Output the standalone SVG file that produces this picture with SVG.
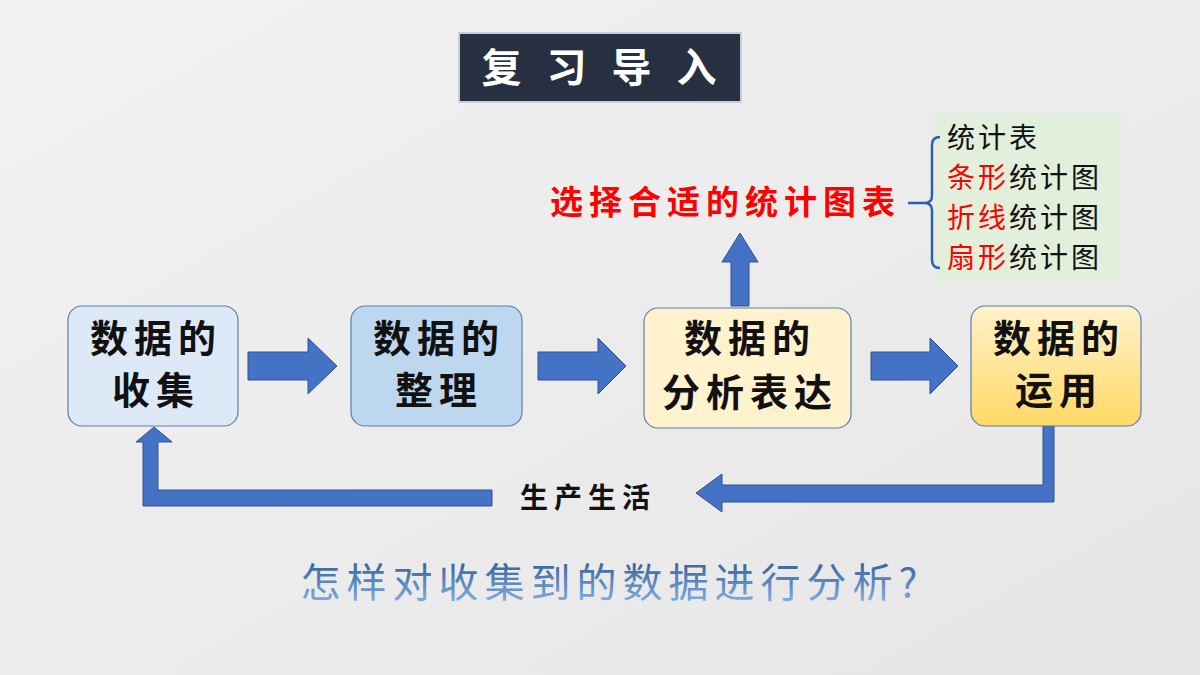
<svg xmlns="http://www.w3.org/2000/svg" width="1200" height="675" viewBox="0 0 1200 675">
<defs>
<style>
.cjk{font-family:"Noto Sans CJK SC","Noto Sans CJK JP",sans-serif}
.node{stroke:#5b7db5;stroke-width:1.2}
.nt{font-size:38px;font-weight:bold;fill:#111;text-anchor:middle;letter-spacing:6px}
.blk{fill:#4472c4;stroke:#2f528f;stroke-width:1}
.li{font-size:28px;letter-spacing:3px}
</style>
<linearGradient id="bg" x1="0" y1="0" x2="1" y2="1"><stop offset="0" stop-color="#f2f2f2"/><stop offset="1" stop-color="#e6e6e6"/></linearGradient>
<linearGradient id="y4" x1="0" y1="0" x2="0" y2="1"><stop offset="0" stop-color="#fff2cc"/><stop offset="1" stop-color="#ffd966"/></linearGradient>
<linearGradient id="q" x1="0" y1="0" x2="0" y2="1"><stop offset="0" stop-color="#1f4e8c"/><stop offset="1" stop-color="#8fb8e8"/></linearGradient>
</defs>
<rect width="1200" height="675" fill="url(#bg)"/>
<g id="title"><rect x="459" y="33" width="282" height="69" fill="#263040" stroke="#c9ced6" stroke-width="2"/>
<text x="603" y="82" class="cjk" font-size="40" font-weight="bold" fill="#fff" text-anchor="middle" letter-spacing="8">复 习 导 入</text></g>
<g id="connectors">
<polygon class="blk" points="248,352 308,352 308,338 337,366 308,394 308,380 248,380"/>
<polygon class="blk" points="538,352 598,352 598,338 626,366 598,394 598,380 538,380"/>
<polygon class="blk" points="871,352 930,352 930,338 958,366 930,394 930,380 871,380"/>
<polygon class="blk" points="731,306 731,262 722,262 740,233 758,262 749,262 749,306"/>
<polygon class="blk" points="1043,426 1054,426 1054,502 722,502 722,512 696,493 722,474 722,485 1043,485"/>
<polygon class="blk" points="492,490 492,506 143,506 143,442 136,442 154,427 172,442 158,442 158,490"/>
</g>
<g id="n1"><rect class="node" x="68" y="306" width="170" height="120" rx="14" fill="#dde9f6"/>
<text class="cjk nt" x="156" y="352">数据的</text><text class="cjk nt" x="156" y="404">收集</text></g>
<g id="n2"><rect class="node" x="351" y="306" width="171" height="120" rx="14" fill="#bdd7ee"/>
<text class="cjk nt" x="439" y="352">数据的</text><text class="cjk nt" x="439" y="404">整理</text></g>
<g id="n3"><rect class="node" x="644" y="308" width="207" height="120" rx="14" fill="#fff2cc"/>
<text class="cjk nt" x="750" y="352">数据的</text><text class="cjk nt" x="750" y="406">分析表达</text></g>
<g id="n4"><rect class="node" x="971" y="306" width="170" height="120" rx="14" fill="url(#y4)"/>
<text class="cjk nt" x="1059" y="352">数据的</text><text class="cjk nt" x="1059" y="404">运用</text></g>
<text class="cjk" x="588" y="508" font-size="28" font-weight="bold" text-anchor="middle" fill="#111" letter-spacing="6">生产生活</text>
<text class="cjk" x="550" y="214" font-size="33" font-weight="bold" fill="#ff0000" letter-spacing="6">选择合适的统计图表</text>
<g id="list"><rect x="935" y="113" width="187" height="170" fill="#e2efda"/>
<path d="M908,203 H928 M940,137 Q932,137 932,145 V196 Q932,203 924,203 Q932,203 932,210 V260 Q932,268 940,268" fill="none" stroke="#2f5fb0" stroke-width="2.5"/>
<text class="cjk li" x="947" y="148" fill="#111">统计表</text>
<text class="cjk li" x="947" y="188"><tspan fill="#ff0000">条形</tspan><tspan fill="#111">统计图</tspan></text>
<text class="cjk li" x="947" y="228"><tspan fill="#ff0000">折线</tspan><tspan fill="#111">统计图</tspan></text>
<text class="cjk li" x="947" y="268"><tspan fill="#ff0000">扇形</tspan><tspan fill="#111">统计图</tspan></text></g>
<text class="cjk" x="612" y="597" font-size="40" fill="url(#q)" text-anchor="middle" letter-spacing="6">怎样对收集到的数据进行分析?</text>
</svg>
